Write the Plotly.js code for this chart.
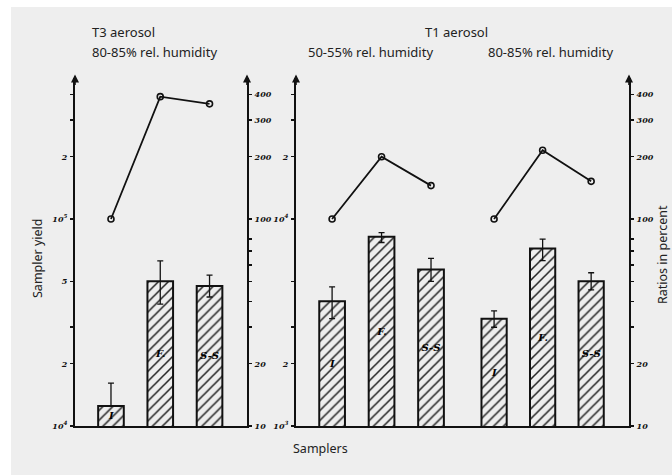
<!DOCTYPE html>
<html>
<head>
<meta charset="utf-8">
<script src="https://cdn.plot.ly/plotly-3.0.1.min.js"></script>
<style>html,body{margin:0;padding:0;background:#fff;}#chart{width:672px;height:475px;}</style>
</head>
<body>
<div id="chart"></div>
<script>
// ---- data ----
const samplers = ['I', 'F.', 'S-S'];
const barText = ['I', 'F.', 'S-S'];

// T3 aerosol, 80-85% rel. humidity (sampler yield)
const t3Yield   = [12500, 50000, 47500];
const t3ErrUp   = [3600, 12700, 6100];
const t3ErrDown = [0, 11200, 5500];
const t3Ratio   = [100, 390, 360];

// T1 aerosol, 50-55% rel. humidity
const t1aYield   = [4000, 8200, 5700];
const t1aErrUp   = [700, 400, 750];
const t1aErrDown = [700, 500, 700];
const t1aRatio   = [100, 200, 145];

// T1 aerosol, 80-85% rel. humidity
const t1bYield   = [3300, 7200, 5000];
const t1bErrUp   = [300, 800, 500];
const t1bErrDown = [300, 900, 450];
const t1bRatio   = [100, 215, 152];

// tick labels
const t3YieldTicks   = [1e4, 2e4, 3e4, 5e4, 1e5, 2e5, 3e5, 4e5];
const t3YieldLabels  = ['10<sup>4</sup>', '2', '', '5', '10<sup>5</sup>', '2', '', ''];
const t1YieldTicks   = [1e3, 2e3, 3e3, 5e3, 1e4, 2e4, 3e4, 4e4];
const t1YieldLabels  = ['10<sup>3</sup>', '2', '', '', '10<sup>4</sup>', '2', '', ''];
const ratioTicks     = [10, 20, 30, 40, 50, 60, 70, 80, 100, 200, 300, 400];
const ratioLabels    = ['10', '20', '', '', '', '', '', '', '100', '200', '300', '400'];

// ---- styling ----
const BG = '#eeeeee';
const W = 672, H = 475;
const px = v => v / W;
const py = v => 1 - v / H;
const tickFont = {family: 'DejaVu Serif', size: 8, color: '#111', style: 'italic', weight: 'bold'};
const barFont = {family: 'DejaVu Serif', size: 10, color: '#000000', style: 'italic', weight: 'bold'};

function barTrace(y, up, down, xa, ya) {
  return {
    type: 'bar', x: samplers, y: y, xaxis: xa, yaxis: ya,
    width: 0.52,
    text: barText, textposition: 'inside', insidetextanchor: 'middle',
    textfont: barFont, insidetextfont: barFont,
    constraintext: 'none',
    marker: {
      color: BG,
      line: {color: '#111', width: 2},
      pattern: {shape: '/', fgcolor: '#222', bgcolor: BG, size: 7, solidity: 0.22}
    },
    error_y: {type: 'data', symmetric: false, array: up, arrayminus: down,
              color: '#111', thickness: 1.3, width: 3},
    showlegend: false, hoverinfo: 'y'
  };
}
function ratioTrace(y, xa, ya) {
  return {
    type: 'scatter', mode: 'lines+markers', x: samplers, y: y, xaxis: xa, yaxis: ya,
    line: {color: '#111', width: 1.8},
    marker: {symbol: 'circle-open', size: 6, color: '#111', line: {width: 1.6}},
    showlegend: false, hoverinfo: 'y'
  };
}

const traces = [
  barTrace(t3Yield, t3ErrUp, t3ErrDown, 'x', 'y'),
  ratioTrace(t3Ratio, 'x', 'y2'),
  barTrace(t1aYield, t1aErrUp, t1aErrDown, 'x2', 'y3'),
  ratioTrace(t1aRatio, 'x2', 'y4'),
  barTrace(t1bYield, t1bErrUp, t1bErrDown, 'x3', 'y3'),
  ratioTrace(t1bRatio, 'x3', 'y4')
];

const yDom = [py(426), py(78)];
const topDec = (426 - 78) / 207;

const xCommon = {type: 'category', showline: true, linecolor: '#111', linewidth: 2,
                 showticklabels: false, ticks: '', showgrid: false, zeroline: false, fixedrange: true};
const yCommon = {type: 'log', showline: true, linecolor: '#111', linewidth: 2,
                 ticks: 'outside', ticklen: 3, tickwidth: 1.5, tickcolor: '#111', ticklabelstandoff: 1,
                 tickfont: tickFont, showgrid: false, zeroline: false, tickmode: 'array', domain: yDom};

const layout = {
  width: W, height: H,
  margin: {l: 0, r: 0, t: 0, b: 0},
  paper_bgcolor: '#ffffff', plot_bgcolor: 'rgba(0,0,0,0)',
  xaxis:  Object.assign({}, xCommon, {domain: [px(75), px(247)], range: [-0.73, 2.76], anchor: 'y'}),
  xaxis2: Object.assign({}, xCommon, {domain: [px(296), px(455.75)], range: [-0.73, 2.5], anchor: 'y3'}),
  xaxis3: Object.assign({}, xCommon, {domain: [px(455.75), px(629)], range: [-0.79, 2.78], anchor: 'y3'}),
  yaxis:  Object.assign({}, yCommon, {anchor: 'x', side: 'left', range: [4, 4 + topDec],
                                      tickvals: t3YieldTicks, ticktext: t3YieldLabels}),
  yaxis2: Object.assign({}, yCommon, {anchor: 'x', side: 'right', overlaying: 'y', range: [1, 1 + topDec],
                                      tickvals: ratioTicks, ticktext: ratioLabels}),
  yaxis3: Object.assign({}, yCommon, {anchor: 'x2', side: 'left', range: [3, 3 + topDec],
                                      tickvals: t1YieldTicks, ticktext: t1YieldLabels}),
  yaxis4: Object.assign({}, yCommon, {anchor: 'x3', side: 'right', overlaying: 'y3', range: [1, 1 + topDec],
                                      tickvals: ratioTicks, ticktext: ratioLabels}),
  shapes: [
    {type: 'rect', xref: 'paper', yref: 'paper', x0: px(11), x1: 1, y0: 0, y1: py(7),
     fillcolor: BG, line: {width: 0}, layer: 'below'}
  ],
  annotations: []
};

const titleFont = {family: 'Noto Sans', size: 13, color: '#222'};
function label(text, x, y, opts) {
  layout.annotations.push(Object.assign({text: text, xref: 'paper', yref: 'paper', x: px(x), y: py(y),
    showarrow: false, font: titleFont, xanchor: 'center', yanchor: 'middle'}, opts || {}));
}
label('T3 aerosol', 90, 32, {xanchor: 'left'});
label('80-85% rel. humidity', 90, 52, {xanchor: 'left'});
label('T1 aerosol', 456, 32);
label('50-55% rel. humidity', 370, 52);
label('80-85% rel. humidity', 550, 52);
label('Sampler yield', 37, 258, {textangle: -90, font: Object.assign({}, titleFont, {size: 12.5})});
label('Ratios in percent', 662, 255, {textangle: -90, font: Object.assign({}, titleFont, {size: 12.5})});
label('Samplers', 320, 448, {font: Object.assign({}, titleFont, {size: 12.5})});

// arrowheads at the top of the vertical axes
[['x domain', 0, 'y domain'], ['x domain', 1, 'y domain'],
 ['x2 domain', 0, 'y3 domain'], ['x3 domain', 1, 'y3 domain']].forEach(a => {
  layout.annotations.push({text: '', xref: a[0], x: a[1], yref: a[2], y: 1.01,
    showarrow: true, ax: 0, ay: 12, axref: 'pixel', ayref: 'pixel',
    arrowhead: 2, arrowsize: 1, arrowwidth: 1.6, arrowcolor: '#111'});
});

Plotly.newPlot('chart', traces, layout, {displayModeBar: false, staticPlot: true});
</script>
</body>
</html>
